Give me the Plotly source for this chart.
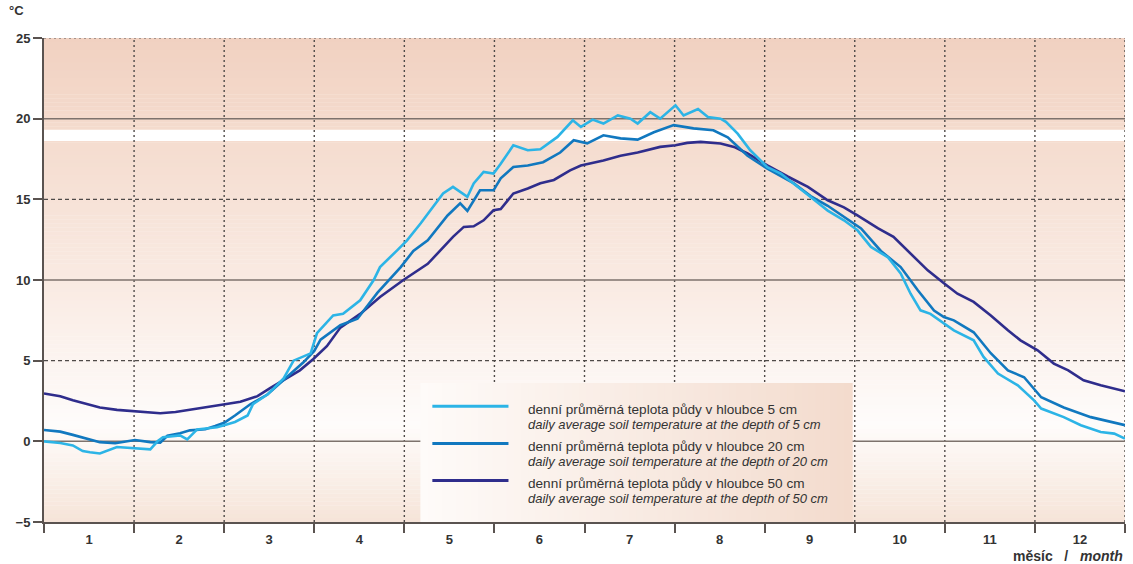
import plotly.graph_objects as go

# ---------------- data (time in months from 1 January, temperature in °C) ----------------
x_5cm = [0.00, 0.18, 0.32, 0.43, 0.51, 0.62, 0.81, 0.99, 1.18, 1.26, 1.32, 1.51, 1.59, 1.70, 1.92,
         2.00, 2.12, 2.26, 2.32, 2.48, 2.66, 2.77, 2.96, 3.03, 3.21, 3.32, 3.51, 3.66, 3.73, 3.92,
         4.03, 4.18, 4.32, 4.43, 4.54, 4.70, 4.77, 4.88, 4.99, 5.07, 5.21, 5.37, 5.51, 5.70, 5.87,
         5.96, 6.09, 6.21, 6.37, 6.51, 6.59, 6.73, 6.84, 7.01, 7.10, 7.26, 7.37, 7.51, 7.57, 7.70,
         7.84, 8.03, 8.18, 8.32, 8.51, 8.70, 8.88, 9.03, 9.18, 9.37, 9.51, 9.62, 9.73, 9.84, 9.99,
         10.10, 10.32, 10.43, 10.59, 10.81, 10.99, 11.07, 11.32, 11.51, 11.73, 11.88, 12.00]
t_5cm = [0.00, -0.10, -0.25, -0.60, -0.68, -0.75, -0.35, -0.43, -0.50, 0.00, 0.25, 0.37, 0.12, 0.74, 0.87,
         1.00, 1.20, 1.60, 2.30, 2.90, 3.90, 5.00, 5.45, 6.70, 7.80, 7.90, 8.74, 10.00, 10.80, 11.84,
         12.46, 13.50, 14.50, 15.36, 15.77, 15.15, 15.98, 16.70, 16.60, 17.20, 18.35, 18.04, 18.10, 18.87, 19.90,
         19.49, 19.94, 19.70, 20.20, 20.00, 19.70, 20.40, 20.00, 20.83, 20.20, 20.60, 20.10, 20.00, 19.80, 19.07,
         18.04, 17.00, 16.60, 16.00, 15.15, 14.30, 13.70, 13.08, 12.05, 11.40, 10.40, 9.15, 8.12, 7.90, 7.30,
         6.88, 6.26, 5.23, 4.20, 3.47, 2.54, 2.03, 1.50, 1.00, 0.58, 0.48, 0.17]

x_20cm = [0.00, 0.18, 0.32, 0.48, 0.62, 0.79, 0.90, 1.01, 1.18, 1.29, 1.37, 1.51, 1.62, 1.79, 1.90,
          2.00, 2.12, 2.29, 2.48, 2.70, 2.88, 3.00, 3.07, 3.29, 3.48, 3.70, 3.96, 4.10, 4.26, 4.48,
          4.62, 4.70, 4.84, 4.99, 5.07, 5.21, 5.37, 5.54, 5.73, 5.88, 6.03, 6.21, 6.40, 6.59, 6.77,
          6.99, 7.21, 7.43, 7.59, 7.81, 8.03, 8.32, 8.51, 8.70, 8.88, 9.07, 9.29, 9.51, 9.70, 9.88,
          9.99, 10.10, 10.32, 10.51, 10.70, 10.88, 11.07, 11.32, 11.62, 11.84, 12.00]
t_20cm = [0.70, 0.60, 0.40, 0.15, -0.05, -0.12, -0.02, 0.08, -0.05, -0.08, 0.35, 0.50, 0.68, 0.75, 0.95,
          1.15, 1.60, 2.30, 2.90, 4.00, 4.90, 5.60, 6.30, 7.20, 7.60, 9.20, 10.80, 11.80, 12.46, 14.00,
          14.75, 14.28, 15.56, 15.56, 16.30, 17.00, 17.10, 17.30, 17.90, 18.66, 18.47, 18.97, 18.78, 18.70, 19.16,
          19.60, 19.40, 19.28, 18.85, 17.70, 16.90, 16.00, 15.20, 14.60, 13.90, 13.20, 11.80, 10.80, 9.36, 8.10,
          7.70, 7.50, 6.76, 5.46, 4.40, 3.97, 2.73, 2.10, 1.50, 1.20, 1.00]

x_50cm = [0.00, 0.18, 0.32, 0.48, 0.62, 0.81, 1.01, 1.18, 1.29, 1.46, 1.62, 1.81, 1.99, 2.18, 2.37,
          2.51, 2.66, 2.84, 2.99, 3.14, 3.29, 3.51, 3.73, 3.99, 4.26, 4.40, 4.54, 4.66, 4.77, 4.88,
          4.99, 5.07, 5.21, 5.37, 5.51, 5.66, 5.84, 5.96, 6.21, 6.40, 6.59, 6.84, 7.01, 7.14, 7.29,
          7.51, 7.66, 7.81, 8.03, 8.26, 8.48, 8.70, 8.88, 9.03, 9.26, 9.43, 9.62, 9.81, 9.99, 10.14,
          10.32, 10.51, 10.70, 10.84, 11.03, 11.21, 11.37, 11.54, 11.73, 11.88, 12.00]
t_50cm = [2.97, 2.80, 2.54, 2.30, 2.10, 1.95, 1.87, 1.80, 1.74, 1.82, 1.95, 2.10, 2.28, 2.45, 2.80,
          3.30, 3.80, 4.40, 5.10, 5.90, 7.05, 7.90, 8.95, 10.00, 11.00, 11.84, 12.67, 13.29, 13.33, 13.70,
          14.32, 14.40, 15.36, 15.67, 16.00, 16.20, 16.80, 17.10, 17.40, 17.70, 17.90, 18.25, 18.35, 18.50, 18.56,
          18.46, 18.25, 17.84, 17.10, 16.40, 15.77, 14.94, 14.50, 14.00, 13.20, 12.67, 11.63, 10.60, 9.80, 9.15,
          8.64, 7.80, 6.88, 6.26, 5.64, 4.82, 4.40, 3.78, 3.47, 3.27, 3.10]

month_labels = ["1", "2", "3", "4", "5", "6", "7", "8", "9", "10", "11", "12"]
y_ticks = [-5, 0, 5, 10, 15, 20, 25]

names_cz = ["denní průměrná teplota půdy v hloubce 5 cm",
            "denní průměrná teplota půdy v hloubce 20 cm",
            "denní průměrná teplota půdy v hloubce 50 cm"]
names_en = ["daily average soil temperature at the depth of 5 cm",
            "daily average soil temperature at the depth of 20 cm",
            "daily average soil temperature at the depth of 50 cm"]

# ---------------- styles ----------------
C5, C20, C50 = "#2cb4e6", "#1178bf", "#2f2d8c"
FONT = "Liberation Sans, Arial, sans-serif"
AX = "#5a5350"
TXT = "#333333"
XMIN, XMAX, YMIN, YMAX = 0, 12, -5, 25


def mix(c1, c2, f):
    return tuple(round(a + (b - a) * f) for a, b in zip(c1, c2))


def rgb(c):
    return "rgb(%d,%d,%d)" % c


bg_stops = [(-5, (246, 228, 216)), (1, (254, 252, 251)), (5, (252, 244, 240)),
            (10, (249, 234, 226)), (20, (244, 218, 204)), (25, (241, 209, 193))]


def bg_color(v):
    for (v0, c0), (v1, c1) in zip(bg_stops[:-1], bg_stops[1:]):
        if v0 <= v <= v1:
            return mix(c0, c1, (v - v0) / (v1 - v0))
    return bg_stops[-1][1]


shapes = []
step = 0.25
n = int((YMAX - YMIN) / step)
for i in range(n):
    y0 = YMIN + i * step
    shapes.append(dict(type="rect", xref="x", yref="y", x0=XMIN, x1=XMAX, y0=y0, y1=y0 + step + 0.02,
                       fillcolor=rgb(bg_color(y0 + step / 2)), line=dict(width=0), layer="below"))
# white band
shapes.append(dict(type="rect", xref="x", yref="y", x0=XMIN, x1=XMAX, y0=18.62, y1=19.32,
                   fillcolor="white", line=dict(width=0), layer="below"))

# grid lines
for m in range(1, 13):
    shapes.append(dict(type="line", xref="x", yref="y", x0=m, x1=m, y0=YMIN, y1=YMAX,
                       line=dict(color="#4f4a48", width=1.4, dash="2px,3px"), layer="below"))
for v in [0, 10, 20]:
    shapes.append(dict(type="line", xref="x", yref="y", x0=XMIN, x1=XMAX, y0=v, y1=v,
                       line=dict(color="#7d726d", width=1.5), layer="below"))
for v in [5, 15]:
    shapes.append(dict(type="line", xref="x", yref="y", x0=XMIN, x1=XMAX, y0=v, y1=v,
                       line=dict(color="#4f4a48", width=1.3, dash="4px,3px"), layer="below"))
shapes.append(dict(type="line", xref="x", yref="y", x0=XMIN, x1=XMAX, y0=25, y1=25,
                   line=dict(color="#8c7f79", width=1.5, dash="2px,3px"), layer="below"))

# legend box (horizontal gradient)
LX0, LX1, LY0, LY1 = 4.178, 8.967, -5, 3.61
left_c, right_c = (254, 251, 249), (243, 219, 205)
ns = 60
w = (LX1 - LX0) / ns
for i in range(ns):
    shapes.append(dict(type="rect", xref="x", yref="y", x0=LX0 + i * w, x1=LX0 + (i + 1) * w + 0.01,
                       y0=LY0, y1=LY1, fillcolor=rgb(mix(left_c, right_c, (i + 0.5) / ns)),
                       line=dict(width=0), layer="below"))

# legend sample lines and texts
leg_line_y = [2.17, -0.14, -2.42]
leg_txt_y = [(1.98, 1.05), (-0.30, -1.27), (-2.62, -3.55)]
annotations = []
for c, ly, (ty1, ty2), cz, en in zip([C5, C20, C50], leg_line_y, leg_txt_y, names_cz, names_en):
    shapes.append(dict(type="line", xref="x", yref="y", x0=4.311, x1=5.156, y0=ly, y1=ly,
                       line=dict(color=c, width=3), layer="above"))
    annotations.append(dict(x=5.356, y=ty1, xref="x", yref="y", text=cz, showarrow=False,
                            xanchor="left", yanchor="middle",
                            font=dict(family=FONT, size=13.6, color=TXT)))
    annotations.append(dict(x=5.356, y=ty2, xref="x", yref="y", text="<i>" + en + "</i>", showarrow=False,
                            xanchor="left", yanchor="middle",
                            font=dict(family=FONT, size=13.0, color=TXT)))

annotations.append(dict(x=-0.025, y=1.056, xref="paper", yref="paper", text="°C", showarrow=False,
                        xanchor="center", yanchor="middle",
                        font=dict(family=FONT, size=13, color=TXT, weight="bold")))
annotations.append(dict(x=1.0, y=-0.070, xref="paper", yref="paper",
                        text="měsíc&nbsp;&nbsp;&nbsp;/&nbsp;&nbsp;&nbsp;<i>month</i>", showarrow=False,
                        xanchor="right", yanchor="middle",
                        font=dict(family=FONT, size=14, color=TXT, weight="bold")))

fig = go.Figure()
for xs, ys, c, nm in [(x_50cm, t_50cm, C50, names_cz[2]), (x_20cm, t_20cm, C20, names_cz[1]),
                      (x_5cm, t_5cm, C5, names_cz[0])]:
    fig.add_trace(go.Scatter(x=xs, y=ys, mode="lines", name=nm, line=dict(color=c, width=2.6),
                             hoverinfo="skip"))

fig.update_layout(
    width=1133, height=564,
    margin=dict(l=44, r=8, t=38, b=42),
    paper_bgcolor="white", plot_bgcolor="white",
    showlegend=False,
    shapes=shapes, annotations=annotations,
    font=dict(family=FONT, color=TXT),
    xaxis=dict(range=[XMIN, XMAX], tickmode="array", tickvals=[m + 0.5 for m in range(12)],
               ticktext=month_labels, ticks="outside", ticklen=4, tickcolor="rgba(0,0,0,0)",
               showgrid=False, zeroline=False, showline=True, linecolor=AX, linewidth=2,
               tickfont=dict(family=FONT, size=13, color=TXT, weight="bold"),
               minor=dict(tickmode="array", tickvals=list(range(13)), ticks="outside", ticklen=9,
                          tickwidth=1.5, tickcolor=AX, showgrid=False),
               fixedrange=True),
    yaxis=dict(range=[YMIN, YMAX], tickmode="array", tickvals=y_ticks, ticks="outside", ticklen=9,
               tickwidth=1.5, tickcolor=AX, showgrid=False, zeroline=False, showline=True,
               linecolor=AX, linewidth=2,
               tickfont=dict(family=FONT, size=13, color=TXT, weight="bold"),
               fixedrange=True),
)

fig.write_html("out.html")
